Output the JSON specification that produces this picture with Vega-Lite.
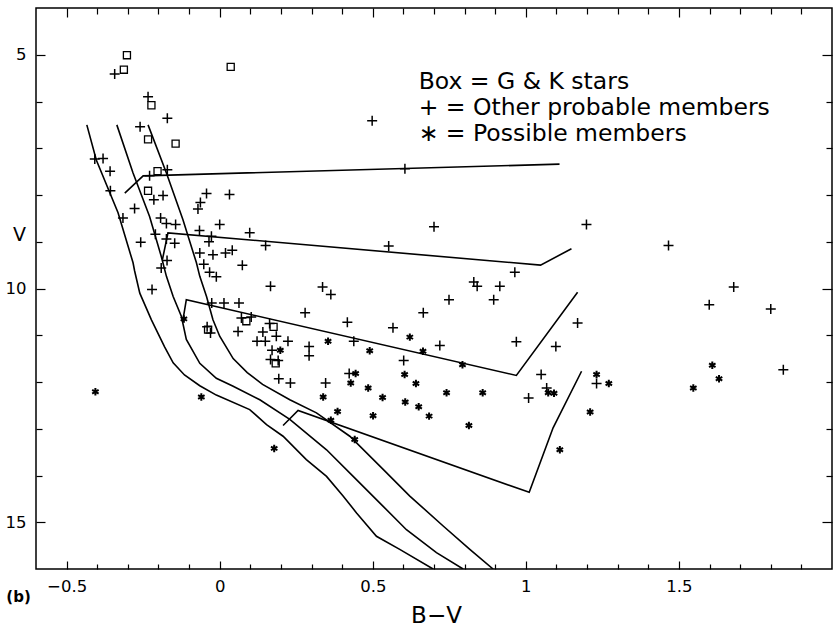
{
  "$schema": "https://vega.github.io/schema/vega-lite/v6.json",
  "width": 796,
  "height": 561,
  "autosize": "none",
  "padding": {"left": 36, "top": 8, "right": 7, "bottom": 58},
  "background": "white",
  "config": {
    "view": {"stroke": "black", "strokeWidth": 1.5},
    "font": "DejaVu Sans",
    "axis": {"grid": false, "domain": false, "tickColor": "black", "tickWidth": 1.2, "labelColor": "black", "titleColor": "black", "labelFont": "DejaVu Sans", "titleFont": "DejaVu Sans", "labelFontSize": 16.5, "titleFontWeight": "normal"}
  },
  "datasets": {
    "lines": [
      {"seg": "a", "i": 0, "bv": -0.434, "v": 6.5},
      {"seg": "a", "i": 1, "bv": -0.403, "v": 7.25},
      {"seg": "a", "i": 2, "bv": -0.332, "v": 8.38},
      {"seg": "a", "i": 3, "bv": -0.283, "v": 9.45},
      {"seg": "a", "i": 4, "bv": -0.278, "v": 9.62},
      {"seg": "a", "i": 5, "bv": -0.261, "v": 10.1},
      {"seg": "a", "i": 6, "bv": -0.223, "v": 10.67},
      {"seg": "a", "i": 7, "bv": -0.18, "v": 11.25},
      {"seg": "a", "i": 8, "bv": -0.152, "v": 11.59},
      {"seg": "a", "i": 9, "bv": -0.115, "v": 11.85},
      {"seg": "a", "i": 10, "bv": -0.065, "v": 12.08},
      {"seg": "a", "i": 11, "bv": -0.011, "v": 12.28},
      {"seg": "a", "i": 12, "bv": 0.098, "v": 12.59},
      {"seg": "a", "i": 13, "bv": 0.153, "v": 12.91},
      {"seg": "a", "i": 14, "bv": 0.207, "v": 13.16},
      {"seg": "a", "i": 15, "bv": 0.283, "v": 13.66},
      {"seg": "a", "i": 16, "bv": 0.349, "v": 14.02},
      {"seg": "a", "i": 17, "bv": 0.403, "v": 14.44},
      {"seg": "a", "i": 18, "bv": 0.447, "v": 14.8},
      {"seg": "a", "i": 19, "bv": 0.512, "v": 15.3},
      {"seg": "a", "i": 20, "bv": 0.588, "v": 15.58},
      {"seg": "a", "i": 21, "bv": 0.697, "v": 16.0},
      {"seg": "b", "i": 0, "bv": -0.336, "v": 6.5},
      {"seg": "b", "i": 1, "bv": -0.283, "v": 7.53},
      {"seg": "b", "i": 2, "bv": -0.229, "v": 8.46},
      {"seg": "b", "i": 3, "bv": -0.191, "v": 9.31},
      {"seg": "b", "i": 4, "bv": -0.174, "v": 9.74},
      {"seg": "b", "i": 5, "bv": -0.152, "v": 10.17},
      {"seg": "b", "i": 6, "bv": -0.125, "v": 10.6},
      {"seg": "b", "i": 7, "bv": -0.109, "v": 11.09},
      {"seg": "b", "i": 8, "bv": -0.065, "v": 11.6},
      {"seg": "b", "i": 9, "bv": -0.011, "v": 11.92},
      {"seg": "b", "i": 10, "bv": 0.044, "v": 12.09},
      {"seg": "b", "i": 11, "bv": 0.131, "v": 12.38},
      {"seg": "b", "i": 12, "bv": 0.229, "v": 12.8},
      {"seg": "b", "i": 13, "bv": 0.349, "v": 13.45},
      {"seg": "b", "i": 14, "bv": 0.436, "v": 14.02},
      {"seg": "b", "i": 15, "bv": 0.534, "v": 14.66},
      {"seg": "b", "i": 16, "bv": 0.61, "v": 15.16},
      {"seg": "b", "i": 17, "bv": 0.708, "v": 15.65},
      {"seg": "b", "i": 18, "bv": 0.795, "v": 16.0},
      {"seg": "c", "i": 0, "bv": -0.234, "v": 6.5},
      {"seg": "c", "i": 1, "bv": -0.174, "v": 7.53},
      {"seg": "c", "i": 2, "bv": -0.12, "v": 8.53},
      {"seg": "c", "i": 3, "bv": -0.076, "v": 9.45},
      {"seg": "c", "i": 4, "bv": -0.065, "v": 9.74},
      {"seg": "c", "i": 5, "bv": -0.043, "v": 10.17},
      {"seg": "c", "i": 6, "bv": -0.022, "v": 10.67},
      {"seg": "c", "i": 7, "bv": 0.0, "v": 11.02},
      {"seg": "c", "i": 8, "bv": 0.044, "v": 11.5},
      {"seg": "c", "i": 9, "bv": 0.09, "v": 11.8},
      {"seg": "c", "i": 10, "bv": 0.14, "v": 12.05},
      {"seg": "c", "i": 11, "bv": 0.229, "v": 12.38},
      {"seg": "c", "i": 12, "bv": 0.316, "v": 12.66},
      {"seg": "c", "i": 13, "bv": 0.425, "v": 13.16},
      {"seg": "c", "i": 14, "bv": 0.534, "v": 13.87},
      {"seg": "c", "i": 15, "bv": 0.621, "v": 14.44},
      {"seg": "c", "i": 16, "bv": 0.73, "v": 15.08},
      {"seg": "c", "i": 17, "bv": 0.817, "v": 15.58},
      {"seg": "c", "i": 18, "bv": 0.893, "v": 16.0},
      {"seg": "p1", "i": 0, "bv": -0.31, "v": 7.96},
      {"seg": "p1", "i": 1, "bv": -0.25, "v": 7.59},
      {"seg": "p1", "i": 2, "bv": 1.11, "v": 7.34},
      {"seg": "p2", "i": 0, "bv": -0.187, "v": 9.38},
      {"seg": "p2", "i": 1, "bv": -0.169, "v": 8.81},
      {"seg": "p2", "i": 2, "bv": 1.048, "v": 9.5},
      {"seg": "p2", "i": 3, "bv": 1.149, "v": 9.15},
      {"seg": "p3", "i": 0, "bv": -0.12, "v": 10.67},
      {"seg": "p3", "i": 1, "bv": -0.109, "v": 10.24},
      {"seg": "p3", "i": 2, "bv": 0.969, "v": 11.86},
      {"seg": "p3", "i": 3, "bv": 1.169, "v": 10.08},
      {"seg": "p4", "i": 0, "bv": 0.207, "v": 12.93},
      {"seg": "p4", "i": 1, "bv": 0.256, "v": 12.61},
      {"seg": "p4", "i": 2, "bv": 1.011, "v": 14.36},
      {"seg": "p4", "i": 3, "bv": 1.089, "v": 12.98},
      {"seg": "p4", "i": 4, "bv": 1.182, "v": 11.77}
    ],
    "pts": [
      {"kind": "box", "bv": -0.303, "v": 5.01},
      {"kind": "box", "bv": -0.313, "v": 5.32},
      {"kind": "box", "bv": 0.036, "v": 5.26},
      {"kind": "box", "bv": -0.223, "v": 6.08},
      {"kind": "box", "bv": -0.234, "v": 6.81},
      {"kind": "box", "bv": -0.144, "v": 6.9},
      {"kind": "box", "bv": -0.203, "v": 7.49},
      {"kind": "box", "bv": -0.234, "v": 7.91},
      {"kind": "box", "bv": -0.038, "v": 10.88},
      {"kind": "box", "bv": 0.087, "v": 10.7},
      {"kind": "box", "bv": 0.176, "v": 10.82},
      {"kind": "box", "bv": 0.183, "v": 11.6},
      {"kind": "plus", "bv": -0.343, "v": 5.41},
      {"kind": "plus", "bv": -0.234, "v": 5.9},
      {"kind": "plus", "bv": -0.171, "v": 6.36},
      {"kind": "plus", "bv": -0.26, "v": 6.54},
      {"kind": "plus", "bv": 0.498, "v": 6.41},
      {"kind": "plus", "bv": -0.408, "v": 7.23},
      {"kind": "plus", "bv": -0.381, "v": 7.22},
      {"kind": "plus", "bv": -0.358, "v": 7.49},
      {"kind": "plus", "bv": -0.171, "v": 7.46},
      {"kind": "plus", "bv": -0.229, "v": 7.59},
      {"kind": "plus", "bv": 0.605, "v": 7.44},
      {"kind": "plus", "bv": -0.357, "v": 7.91},
      {"kind": "plus", "bv": -0.185, "v": 8.01},
      {"kind": "plus", "bv": -0.043, "v": 7.97},
      {"kind": "plus", "bv": 0.032, "v": 7.99},
      {"kind": "plus", "bv": -0.215, "v": 8.1},
      {"kind": "plus", "bv": -0.278, "v": 8.29},
      {"kind": "plus", "bv": -0.316, "v": 8.49},
      {"kind": "plus", "bv": -0.063, "v": 8.16},
      {"kind": "plus", "bv": -0.071, "v": 8.3},
      {"kind": "plus", "bv": -0.193, "v": 8.49},
      {"kind": "plus", "bv": -0.174, "v": 8.61},
      {"kind": "plus", "bv": -0.144, "v": 8.63},
      {"kind": "plus", "bv": 0.0, "v": 8.63},
      {"kind": "plus", "bv": -0.066, "v": 8.76},
      {"kind": "plus", "bv": -0.21, "v": 8.84},
      {"kind": "plus", "bv": -0.027, "v": 8.88},
      {"kind": "plus", "bv": -0.035, "v": 9.0},
      {"kind": "plus", "bv": 0.098, "v": 8.81},
      {"kind": "plus", "bv": -0.258, "v": 9.01},
      {"kind": "plus", "bv": -0.174, "v": 8.94},
      {"kind": "plus", "bv": -0.147, "v": 9.03},
      {"kind": "plus", "bv": 0.15, "v": 9.08},
      {"kind": "plus", "bv": -0.065, "v": 9.24},
      {"kind": "plus", "bv": -0.022, "v": 9.28},
      {"kind": "plus", "bv": 0.019, "v": 9.24},
      {"kind": "plus", "bv": 0.041, "v": 9.18},
      {"kind": "plus", "bv": -0.052, "v": 9.48},
      {"kind": "plus", "bv": 0.074, "v": 9.5},
      {"kind": "plus", "bv": -0.172, "v": 9.4},
      {"kind": "plus", "bv": -0.191, "v": 9.56},
      {"kind": "plus", "bv": -0.033, "v": 9.65},
      {"kind": "plus", "bv": -0.011, "v": 9.75},
      {"kind": "plus", "bv": 0.166, "v": 9.95},
      {"kind": "plus", "bv": 0.336, "v": 9.97},
      {"kind": "plus", "bv": 0.363, "v": 10.13},
      {"kind": "plus", "bv": -0.221, "v": 10.02},
      {"kind": "plus", "bv": 0.552, "v": 9.09},
      {"kind": "plus", "bv": 0.7, "v": 8.68},
      {"kind": "plus", "bv": 1.198, "v": 8.63},
      {"kind": "plus", "bv": 1.466, "v": 9.08},
      {"kind": "plus", "bv": 0.964, "v": 9.65},
      {"kind": "plus", "bv": 0.83, "v": 9.86},
      {"kind": "plus", "bv": 0.841, "v": 9.95},
      {"kind": "plus", "bv": 0.915, "v": 9.95},
      {"kind": "plus", "bv": 0.749, "v": 10.24},
      {"kind": "plus", "bv": 0.895, "v": 10.24},
      {"kind": "plus", "bv": 0.665, "v": 10.52},
      {"kind": "plus", "bv": 1.679, "v": 9.97},
      {"kind": "plus", "bv": 1.599, "v": 10.35},
      {"kind": "plus", "bv": 1.8, "v": 10.44},
      {"kind": "plus", "bv": 0.279, "v": 10.52},
      {"kind": "plus", "bv": -0.026, "v": 10.31},
      {"kind": "plus", "bv": 0.014, "v": 10.31},
      {"kind": "plus", "bv": 0.063, "v": 10.31},
      {"kind": "plus", "bv": 1.169, "v": 10.74},
      {"kind": "plus", "bv": 0.969, "v": 11.14},
      {"kind": "plus", "bv": 1.098, "v": 11.24},
      {"kind": "plus", "bv": 0.719, "v": 11.22},
      {"kind": "plus", "bv": 0.601, "v": 11.54},
      {"kind": "plus", "bv": 1.05, "v": 11.84},
      {"kind": "plus", "bv": 1.231, "v": 12.03},
      {"kind": "plus", "bv": 1.068, "v": 12.13},
      {"kind": "plus", "bv": 1.009, "v": 12.34},
      {"kind": "plus", "bv": 1.841, "v": 11.74},
      {"kind": "plus", "bv": -0.041, "v": 10.82},
      {"kind": "plus", "bv": -0.03, "v": 10.95},
      {"kind": "plus", "bv": 0.06, "v": 10.92},
      {"kind": "plus", "bv": 0.071, "v": 10.63},
      {"kind": "plus", "bv": 0.103, "v": 10.61},
      {"kind": "plus", "bv": 0.141, "v": 10.93},
      {"kind": "plus", "bv": 0.163, "v": 10.75},
      {"kind": "plus", "bv": 0.185, "v": 11.02},
      {"kind": "plus", "bv": 0.122, "v": 11.13},
      {"kind": "plus", "bv": 0.149, "v": 11.13},
      {"kind": "plus", "bv": 0.223, "v": 11.13},
      {"kind": "plus", "bv": 0.292, "v": 11.24},
      {"kind": "plus", "bv": 0.292, "v": 11.44},
      {"kind": "plus", "bv": 0.171, "v": 11.32},
      {"kind": "plus", "bv": 0.166, "v": 11.52},
      {"kind": "plus", "bv": 0.191, "v": 11.54},
      {"kind": "plus", "bv": 0.193, "v": 11.93},
      {"kind": "plus", "bv": 0.231, "v": 12.02},
      {"kind": "plus", "bv": 0.417, "v": 10.72},
      {"kind": "plus", "bv": 0.566, "v": 10.84},
      {"kind": "plus", "bv": 0.438, "v": 11.13},
      {"kind": "plus", "bv": 0.423, "v": 11.82},
      {"kind": "plus", "bv": 0.346, "v": 12.02},
      {"kind": "star", "bv": 0.621, "v": 11.04},
      {"kind": "star", "bv": 0.664, "v": 11.34},
      {"kind": "star", "bv": 0.793, "v": 11.63},
      {"kind": "star", "bv": 0.604, "v": 11.84},
      {"kind": "star", "bv": 0.641, "v": 12.03},
      {"kind": "star", "bv": 0.741, "v": 12.23},
      {"kind": "star", "bv": 0.859, "v": 12.23},
      {"kind": "star", "bv": 0.606, "v": 12.43},
      {"kind": "star", "bv": 0.65, "v": 12.53},
      {"kind": "star", "bv": 0.684, "v": 12.73},
      {"kind": "star", "bv": 0.814, "v": 12.93},
      {"kind": "star", "bv": 1.073, "v": 12.23},
      {"kind": "star", "bv": 1.092, "v": 12.24},
      {"kind": "star", "bv": 1.111, "v": 13.45},
      {"kind": "star", "bv": 1.231, "v": 11.84},
      {"kind": "star", "bv": 1.271, "v": 12.03},
      {"kind": "star", "bv": 1.21, "v": 12.64},
      {"kind": "star", "bv": 1.547, "v": 12.13},
      {"kind": "star", "bv": 1.609, "v": 11.64},
      {"kind": "star", "bv": 1.631, "v": 11.93},
      {"kind": "star", "bv": 0.198, "v": 11.32},
      {"kind": "star", "bv": 0.354, "v": 11.13},
      {"kind": "star", "bv": 0.49, "v": 11.33},
      {"kind": "star", "bv": 0.444, "v": 11.82},
      {"kind": "star", "bv": 0.428, "v": 12.02},
      {"kind": "star", "bv": 0.485, "v": 12.13},
      {"kind": "star", "bv": 0.338, "v": 12.32},
      {"kind": "star", "bv": 0.532, "v": 12.33},
      {"kind": "star", "bv": 0.385, "v": 12.63},
      {"kind": "star", "bv": 0.501, "v": 12.72},
      {"kind": "star", "bv": 0.363, "v": 12.82},
      {"kind": "star", "bv": 0.441, "v": 13.23},
      {"kind": "star", "bv": 0.178, "v": 13.42},
      {"kind": "star", "bv": -0.06, "v": 12.32},
      {"kind": "star", "bv": -0.406, "v": 12.21},
      {"kind": "star", "bv": -0.117, "v": 10.65}
    ],
    "notes": [
      {"txt": "Box = G & K stars", "bv": 0.65, "v": 5.733},
      {"txt": "+ = Other probable members", "bv": 0.65, "v": 6.283},
      {"txt": "∗ = Possible members", "bv": 0.65, "v": 6.854}
    ]
  },
  "layer": [
    {
      "data": {"name": "lines"},
      "mark": {"type": "line", "color": "black", "strokeWidth": 1.6, "clip": true},
      "encoding": {
        "x": {"field": "bv", "type": "quantitative", "scale": {"domain": [-0.6, 2.0], "nice": false, "zero": false},
          "axis": {"orient": "bottom", "title": "B−V", "titleFontSize": 23, "titleX": 400, "titleY": 53, "titleBaseline": "alphabetic", "titleAlign": "center",
            "values": [-0.5,-0.4,-0.3,-0.2,-0.1,0,0.1,0.2,0.3,0.4,0.5,0.6,0.7,0.8,0.9,1,1.1,1.2,1.3,1.4,1.5,1.6,1.7,1.8,1.9],
            "format": "~g",
            "labelExpr": "abs(datum.value*2 - round(datum.value*2)) < 0.001 ? datum.label : ''",
            "tickSize": {"condition": {"test": "abs(datum.value*2 - round(datum.value*2)) < 0.001", "value": -8}, "value": -5},
            "labelPadding": 17, "labelBaseline": "top", "labelFlush": false, "labelOverlap": false}},
        "y": {"field": "v", "type": "quantitative", "scale": {"domain": [4, 16], "reverse": true, "nice": false, "zero": false},
          "axis": {"orient": "left", "title": "V", "titleAngle": 0, "titleFontSize": 19, "titleX": -17, "titleY": 232, "titleBaseline": "alphabetic", "titleAlign": "center",
            "values": [5,6,7,8,9,10,11,12,13,14,15],
            "labelExpr": "datum.value % 5 === 0 ? datum.label : ''",
            "tickSize": {"condition": {"test": "datum.value % 5 === 0", "value": -9}, "value": -6},
            "labelPadding": 19, "labelBaseline": "middle", "labelFlush": false, "labelOverlap": false}},
        "detail": {"field": "seg"},
        "order": {"field": "i", "type": "quantitative"}
      }
    },
    {
      "data": {"name": "pts"},
      "transform": [{"filter": "datum.kind === 'box'"}],
      "mark": {"type": "point", "shape": "square", "filled": false, "color": "black", "strokeWidth": 1.3, "size": 50, "opacity": 1},
      "encoding": {
        "x": {"field": "bv", "type": "quantitative",
          "axis": {"orient": "top", "title": null, "labels": false,
            "values": [-0.5,-0.4,-0.3,-0.2,-0.1,0,0.1,0.2,0.3,0.4,0.5,0.6,0.7,0.8,0.9,1,1.1,1.2,1.3,1.4,1.5,1.6,1.7,1.8,1.9],
            "tickSize": {"condition": {"test": "abs(datum.value*2 - round(datum.value*2)) < 0.001", "value": -9}, "value": -6}}},
        "y": {"field": "v", "type": "quantitative",
          "axis": {"orient": "right", "title": null, "labels": false,
            "values": [5,6,7,8,9,10,11,12,13,14,15],
            "tickSize": {"condition": {"test": "datum.value % 5 === 0", "value": -10}, "value": -6}}}
      }
    },
    {
      "data": {"name": "pts"},
      "transform": [{"filter": "datum.kind === 'plus'"}],
      "mark": {"type": "point", "shape": "M-1,0L1,0M0,-1L0,1", "filled": false, "color": "black", "strokeWidth": 1.5, "size": 100, "opacity": 1},
      "encoding": {
        "x": {"field": "bv", "type": "quantitative", "axis": null},
        "y": {"field": "v", "type": "quantitative", "axis": null}
      }
    },
    {
      "data": {"name": "pts"},
      "transform": [{"filter": "datum.kind === 'star'"}],
      "mark": {"type": "point", "shape": "M0,-1L0,1M-0.866,-0.5L0.866,0.5M-0.866,0.5L0.866,-0.5", "filled": false, "color": "black", "strokeWidth": 2, "size": 56, "opacity": 1},
      "encoding": {
        "x": {"field": "bv", "type": "quantitative", "axis": null},
        "y": {"field": "v", "type": "quantitative", "axis": null}
      }
    },
    {
      "data": {"name": "notes"},
      "mark": {"type": "text", "align": "left", "baseline": "alphabetic", "font": "DejaVu Sans", "fontSize": 23.5, "color": "black"},
      "encoding": {
        "x": {"field": "bv", "type": "quantitative", "axis": null},
        "y": {"field": "v", "type": "quantitative", "axis": null},
        "text": {"field": "txt"}
      }
    },
    {
      "data": {"values": [{"txt": "(b)", "bv": -0.697, "v": 16.7}]},
      "mark": {"type": "text", "align": "left", "baseline": "alphabetic", "font": "DejaVu Sans", "fontSize": 15, "fontWeight": "bold", "color": "black"},
      "encoding": {
        "x": {"field": "bv", "type": "quantitative", "axis": null},
        "y": {"field": "v", "type": "quantitative", "axis": null},
        "text": {"field": "txt"}
      }
    }
  ],
  "resolve": {"axis": {"x": "independent", "y": "independent"}}
}
